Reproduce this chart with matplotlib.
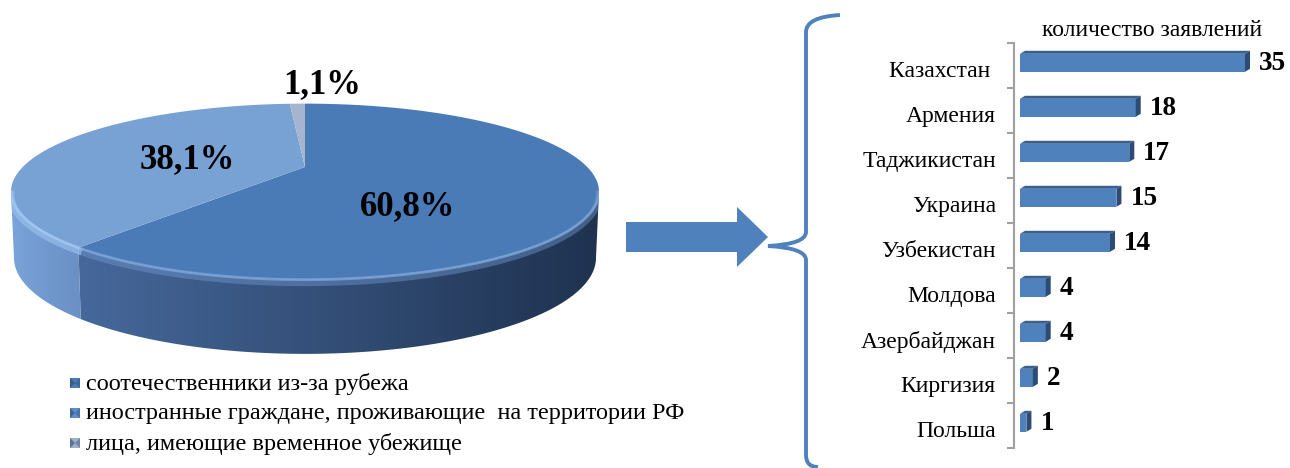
import numpy as np
import matplotlib.pyplot as plt
from matplotlib.patches import Polygon, Rectangle, PathPatch
from matplotlib.path import Path
from matplotlib.colors import LinearSegmentedColormap

plt.rcParams['font.family'] = ['Liberation Serif', 'DejaVu Serif']

# данные круговой диаграммы
pie_shares = [60.8, 38.1, 1.1]
pie_labels = ['соотечественники из-за рубежа',
              'иностранные граждане, проживающие  на территории РФ',
              'лица, имеющие временное убежище']
pie_top_colors = ['#4a7bb7', '#78a1d4', '#a5b4cf']

# данные столбчатой диаграммы
countries = ['Казахстан ', 'Армения', 'Таджикистан', 'Украина', 'Узбекистан',
             'Молдова', 'Азербайджан', 'Киргизия', 'Польша']
counts = [35, 18, 17, 15, 14, 4, 4, 2, 1]

W, H = 1290, 468
fig = plt.figure(figsize=(W / 100, H / 100), dpi=100)
ax = fig.add_axes([0, 0, 1, 1])
ax.set_xlim(0, W)
ax.set_ylim(H, 0)
ax.axis('off')

# --- 3D круг в перспективе ---
cx, apex_y, rx, ry, k = 305, 167, 294, 88, 0.28
sx, sy = rx * np.sqrt(1 - k**2), ry * (1 - k**2)
# нижний диск
apex_b, rx_b, ry_b = 231, 291, 96
sx_b, sy_b = rx_b * np.sqrt(1 - k**2), ry_b * (1 - k**2)


def proj(phi, top=True):
    # phi - угол по часовой стрелке от верха, в градусах
    p = np.radians(phi)
    u, v = np.sin(p), np.cos(p)
    w = 1 + k * v
    X, Y = u / w, v / w
    if top:
        return cx + sx * X, apex_y - sy * Y
    return cx + sx_b * X, apex_b - sy_b * Y


phi_left = 180 + np.degrees(np.arccos(k))   # крайняя левая точка
phi_right = 180 - np.degrees(np.arccos(k))  # крайняя правая точка

bounds = np.concatenate([[0], np.cumsum(pie_shares) / sum(pie_shares) * 360])

side_cmaps = [LinearSegmentedColormap.from_list('s0', ['#46689b', '#1f3250']),
              LinearSegmentedColormap.from_list('s1', ['#7aa4da', '#6a8fc4']),
              LinearSegmentedColormap.from_list('s2', ['#a5b4cf', '#a5b4cf'])]

# контур всего круга (для обрезки бликов)
ph_back = np.linspace(phi_left, 360 + phi_right, 300)
ph_front = np.linspace(phi_right, phi_left, 200)
ox = np.concatenate([proj(ph_back)[0], proj(ph_front, False)[0]])
oy = np.concatenate([proj(ph_back)[1], proj(ph_front, False)[1]])
outline = Polygon(np.column_stack([ox, oy]), closed=True, facecolor='none', edgecolor='none')
ax.add_patch(outline)

# боковые стенки
for i in range(len(pie_shares)):
    a0 = max(bounds[i], phi_right)
    a1 = min(bounds[i + 1], phi_left)
    if a1 <= a0:
        continue
    ph = np.linspace(a0, a1, 120)
    tx, ty = proj(ph, True)
    bx_, by_ = proj(ph, False)
    pts = np.column_stack([np.concatenate([tx, bx_[::-1]]),
                           np.concatenate([ty, by_[::-1]])])
    poly = Polygon(pts, closed=True, facecolor='none', edgecolor='none')
    ax.add_patch(poly)
    x0, x1 = pts[:, 0].min(), pts[:, 0].max()
    if i == 0:
        x0 = proj(min(bounds[1], phi_left))[0]
    grad = np.linspace(0, 1, 256).reshape(1, -1)
    im = ax.imshow(grad, extent=[x0, x1, pts[:, 1].max(), pts[:, 1].min()],
                   cmap=side_cmaps[i], aspect='auto', zorder=1)
    im.set_clip_path(poly)

# верхняя грань
for i in range(len(pie_shares)):
    ph = np.linspace(bounds[i], bounds[i + 1], 200)
    tx, ty = proj(ph, True)
    pts = np.column_stack([np.concatenate([[cx], tx]), np.concatenate([[apex_y], ty])])
    ax.add_patch(Polygon(pts, closed=True, facecolor=pie_top_colors[i],
                         edgecolor='none', zorder=2))

# светлый кант по переднему краю
ph = np.linspace(max(bounds[0], phi_right), min(bounds[1], phi_left), 100)
tx, ty = proj(ph)
ln1, = ax.plot(tx, ty + 3, color='#6f99d0', lw=5, alpha=0.45, zorder=3)
ln2, = ax.plot(tx, ty, color='#7ea5d9', lw=2, alpha=0.8, zorder=3)
ph = np.linspace(bounds[1], phi_left, 60)
tx, ty = proj(ph)
ln3, = ax.plot(tx, ty + 3, color='#9cc4f2', lw=5, alpha=0.6, zorder=3)
ln4, = ax.plot(tx, ty, color='#a3c8f2', lw=2, alpha=0.8, zorder=3)
for ln in (ln1, ln2, ln3, ln4):
    ln.set_clip_path(outline)

# подписи процентов
label_pos = [(408, 207), (187, 160), (322, 85)]
for share, (lx, ly) in zip(pie_shares, label_pos):
    ax.text(lx, ly, f'{share:.1f}%'.replace('.', ','), ha='center', va='center',
            fontsize=25, fontweight='bold', color='black', zorder=4)

# легенда
legend_y = [383, 413, 443]
legend_colors = ['#4a7bb7', '#5f8ccb', '#9fafc9']
for lab, col, ly in zip(pie_labels, legend_colors, legend_y):
    ax.add_patch(Rectangle((70, ly - 5), 10, 10, facecolor=col, edgecolor='none'))
    ax.add_patch(Polygon([(70, ly - 5), (75, ly), (70, ly + 5)], facecolor='#2c4a72',
                         edgecolor='none', alpha=0.6))
    ax.add_patch(Polygon([(80, ly - 5), (75, ly), (80, ly + 5)], facecolor='#2c4a72',
                         edgecolor='none', alpha=0.4))
    ax.text(86, ly + 1, lab, ha='left', va='center', fontsize=17.5)

# стрелка
arrow = [(626, 222), (737, 222), (737, 207), (768, 237), (737, 267), (737, 252), (626, 252)]
ax.add_patch(Polygon(arrow, closed=True, facecolor='#4f81bd', edgecolor='none'))

# фигурная скобка
verts = [(840, 15), (806, 17), (806, 32),
         (806, 232),
         (806, 244), (768, 246),
         (806, 248), (806, 260),
         (806, 455),
         (806, 467), (818, 467)]
codes = [Path.MOVETO, Path.CURVE3, Path.CURVE3,
         Path.LINETO,
         Path.CURVE3, Path.CURVE3,
         Path.CURVE3, Path.CURVE3,
         Path.LINETO,
         Path.CURVE3, Path.CURVE3]
ax.add_patch(PathPatch(Path(verts, codes), facecolor='none', edgecolor='#4f81bd', lw=2.8))

# --- столбчатая диаграмма ---
bx = fig.add_axes([1014 / W, 20 / H, 276 / W, 405 / H])
bx.set_xlim(-0.93, 42.0)
bx.set_ylim(len(countries) - 0.5, -0.5)
ypos = np.arange(len(countries))
bh, off = 0.4, -0.06
dx, dy = 0.78, 0.067
bx.barh(ypos + off, counts, height=bh, color='#4f81bd', edgecolor='none', zorder=2)
for y, v in zip(ypos + off, counts):
    top, bot = y - bh / 2, y + bh / 2
    bx.add_patch(Polygon([(0, top), (v, top), (v + dx, top - dy), (dx, top - dy)],
                         facecolor='#3a5f8e', edgecolor='none', zorder=2))
    bx.add_patch(Polygon([(v, top), (v + dx, top - dy), (v + dx, bot - dy), (v, bot)],
                         facecolor='#2c4c75', edgecolor='none', zorder=2))
    bx.text(v + dx + 1.4, y + 0.02, str(v), ha='left', va='center', fontsize=19.5,
            fontweight='bold', clip_on=False)

for s in ['top', 'right', 'bottom']:
    bx.spines[s].set_visible(False)
bx.spines['left'].set_color('#a0a0a0')
bx.spines['left'].set_linewidth(1.5)
bx.set_xticks([])
bx.set_yticks(ypos + 0.08)
bx.set_yticklabels(countries, fontsize=17)
bx.tick_params(axis='y', which='major', length=0, pad=13)
bx.set_yticks(np.arange(-0.5, len(countries)), minor=True)
bx.tick_params(axis='y', which='minor', length=5, width=1.5, color='#a0a0a0')
bx.patch.set_alpha(0)
bx.set_title('количество заявлений', fontsize=17, x=(1152 - 1014) / 276, y=1.0, pad=5)

fig.savefig('out.png', dpi=100)
